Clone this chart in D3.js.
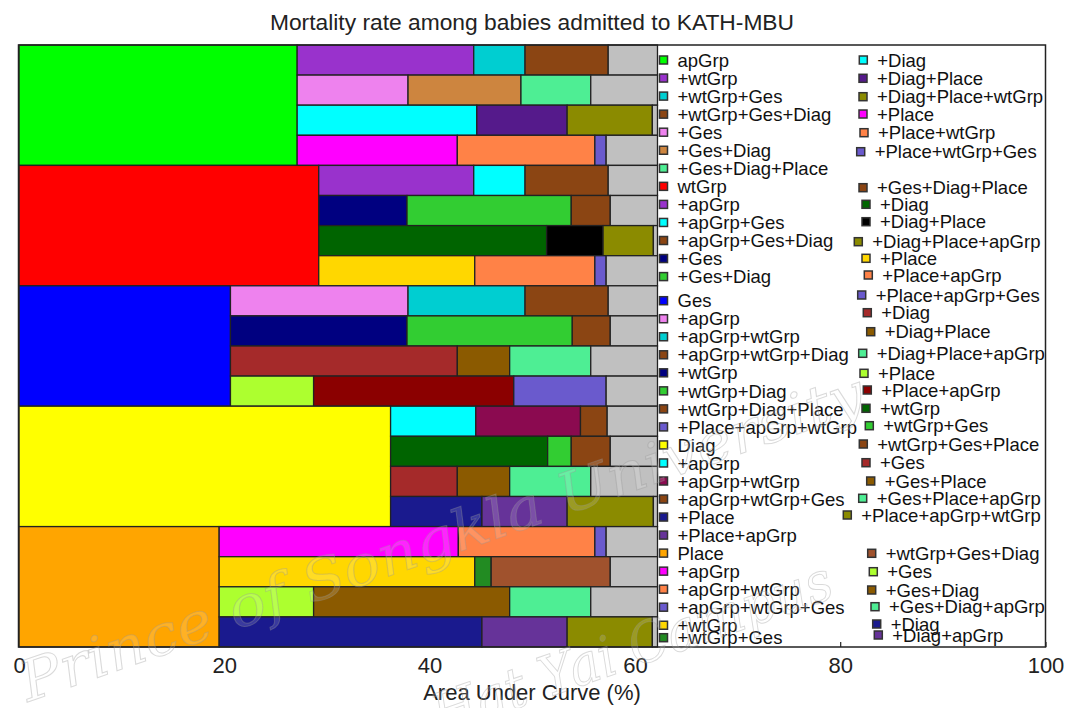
<!DOCTYPE html>
<html>
<head>
<meta charset="utf-8">
<script src="https://cdn.jsdelivr.net/npm/d3@7"></script>
<style>
  html, body { margin: 0; padding: 0; background: #fff; }
  svg { display: block; font-family: "Liberation Sans", Arial, sans-serif; }
</style>
</head>
<body>
<svg id="chart" width="1067" height="708"></svg>
<script>
// ---- data -------------------------------------------------------------
// single-variable models (one band each) and their AUC (%)
const models = ["apGrp", "wtGrp", "Ges", "Diag", "Place"];
const modelColors = ["#00FF00", "#FF0000", "#0000FF", "#FFFF00", "#FFA500"];
const singleAUC = [27.1, 29.2, 20.6, 36.2, 19.5];

// AUC of the full model (grey cap at the end of each row)
const fullAUC = 62.2;

// four forward-selection paths per model, three added terms each
const stepLabels = [
  [["+wtGrp", "+wtGrp+Ges", "+wtGrp+Ges+Diag"],
   ["+Ges", "+Ges+Diag", "+Ges+Diag+Place"],
   ["+Diag", "+Diag+Place", "+Diag+Place+wtGrp"],
   ["+Place", "+Place+wtGrp", "+Place+wtGrp+Ges"]],
  [["+apGrp", "+apGrp+Ges", "+apGrp+Ges+Diag"],
   ["+Ges", "+Ges+Diag", "+Ges+Diag+Place"],
   ["+Diag", "+Diag+Place", "+Diag+Place+apGrp"],
   ["+Place", "+Place+apGrp", "+Place+apGrp+Ges"]],
  [["+apGrp", "+apGrp+wtGrp", "+apGrp+wtGrp+Diag"],
   ["+wtGrp", "+wtGrp+Diag", "+wtGrp+Diag+Place"],
   ["+Diag", "+Diag+Place", "+Diag+Place+apGrp"],
   ["+Place", "+Place+apGrp", "+Place+apGrp+wtGrp"]],
  [["+apGrp", "+apGrp+wtGrp", "+apGrp+wtGrp+Ges"],
   ["+wtGrp", "+wtGrp+Ges", "+wtGrp+Ges+Place"],
   ["+Ges", "+Ges+Place", "+Ges+Place+apGrp"],
   ["+Place", "+Place+apGrp", "+Place+apGrp+wtGrp"]],
  [["+apGrp", "+apGrp+wtGrp", "+apGrp+wtGrp+Ges"],
   ["+wtGrp", "+wtGrp+Ges", "+wtGrp+Ges+Diag"],
   ["+Ges", "+Ges+Diag", "+Ges+Diag+apGrp"],
   ["+Diag", "+Diag+apGrp", "+Diag+apGrp+wtGrp"]]
];

// cumulative AUC (%) after each added term
const stepAUC = [
  [[44.3, 49.3, 57.4], [37.9, 48.9, 55.7], [44.6, 53.4, 61.7], [42.7, 56.1, 57.2]],
  [[44.3, 49.3, 57.4], [37.8, 53.8, 57.6], [51.4, 56.9, 61.8], [44.4, 56.1, 57.2]],
  [[37.9, 49.3, 57.4], [37.8, 53.9, 57.6], [42.7, 47.8, 55.7], [28.7, 48.2, 57.2]],
  [[44.5, 54.7, 57.3], [51.5, 53.8, 57.6], [42.7, 47.8, 55.7], [45.1, 53.4, 61.8]],
  [[42.8, 56.1, 57.2], [44.4, 46.0, 57.6], [28.7, 47.8, 55.7], [45.1, 53.4, 61.7]]
];

const stepColors = [
  [["#9932CC", "#00CED1", "#8B4513"], ["#EE82EE", "#CD853F", "#4EEE94"],
   ["#00FFFF", "#551A8B", "#8B8B00"], ["#FF00FF", "#FF8247", "#6A5ACD"]],
  [["#9932CC", "#00FFFF", "#8B4513"], ["#000080", "#32CD32", "#8B4513"],
   ["#006400", "#000000", "#8B8B00"], ["#FFD700", "#FF8247", "#6A5ACD"]],
  [["#EE82EE", "#00CED1", "#8B4513"], ["#000080", "#32CD32", "#8B4513"],
   ["#A52A2A", "#8B5A00", "#4EEE94"], ["#ADFF2F", "#8B0000", "#6A5ACD"]],
  [["#00FFFF", "#8B0A50", "#8B4513"], ["#006400", "#32CD32", "#8B4513"],
   ["#A52A2A", "#8B5A00", "#4EEE94"], ["#1A1A8E", "#663399", "#8B8B00"]],
  [["#FF00FF", "#FF8247", "#6A5ACD"], ["#FFD700", "#228B22", "#A0522D"],
   ["#ADFF2F", "#8B5A00", "#4EEE94"], ["#1A1A8E", "#663399", "#8B8B00"]]
];
const fullColor = "#C0C0C0";

const xTicks = [0, 20, 40, 60, 80, 100];

// legend entries: [model, path, step]; path -1 = the single-variable model
const legendLeftKeys = [
  [0,-1],[0,0,0],[0,0,1],[0,0,2],[0,1,0],[0,1,1],[0,1,2],
  [1,-1],[1,0,0],[1,0,1],[1,0,2],[1,1,0],[1,1,1],
  [2,-1],[2,0,0],[2,0,1],[2,0,2],[2,1,0],[2,1,1],[2,1,2],[2,3,2],
  [3,-1],[3,0,0],[3,0,1],[3,0,2],[3,3,0],[3,3,1],
  [4,-1],[4,0,0],[4,0,1],[4,0,2],[4,1,0],[4,1,1]
];
const legendRightKeys = [
  [0,2,0],[0,2,1],[0,2,2],[0,3,0],[0,3,1],[0,3,2],
  [1,1,2],[1,2,0],[1,2,1],[1,2,2],[1,3,0],[1,3,1],[1,3,2],
  [2,2,0],[2,2,1],[2,2,2],[2,3,0],[2,3,1],
  [3,1,0],[3,1,1],[3,1,2],[3,2,0],[3,2,1],[3,2,2],[3,3,2],
  [4,1,2],[4,2,0],[4,2,1],[4,2,2],[4,3,0],[4,3,1]
];

// ---- layout -----------------------------------------------------------
const plot = { left: 18.5, right: 1045.5, top: 45, bottom: 647 };

// legend placement (the right-hand column is set entry by entry)
const leftLegendX = 663.5;
const leftLegendY = legendLeftKeys.map((k, i) =>
  i < 13 ? 60 + i * 18.05 : (i < 32 ? 300.7 + (i - 13) * 18.03 : 637.7));
const rightLegendX = [863.3, 863, 863, 863, 864, 860.7,
  863, 866, 866, 858.3, 866, 868.3, 861.7,
  867.3, 870.7, 862.7, 864, 867.3,
  866, 869.3, 863.3, 866, 870.7, 862.7, 847.3,
  871.7, 873.3, 871.7, 875, 876.7, 878.3];
const rightLegendY = [60, 78.3, 96.7, 114, 132.7, 151.7,
  187.7, 204.3, 221.7, 241.7, 258.3, 275, 295,
  312.7, 331.7, 353.3, 373.3, 390,
  408.3, 425.7, 444, 462.7, 481, 498.3, 515,
  553.3, 571.7, 590, 606.7, 624, 635];

// ---- drawing ----------------------------------------------------------
const svg = d3.select("#chart");

const x = d3.scaleLinear().domain([0, 100]).range([plot.left + 0.5, plot.right]);
const yModel = d3.scaleBand().domain(models).range([plot.top, plot.bottom]);
const yPath = d3.scaleBand().domain([0, 1, 2, 3]).range([0, yModel.bandwidth()]);

// title
svg.append("text")
  .attr("x", (plot.left + plot.right) / 2)
  .attr("y", 30)
  .attr("text-anchor", "middle")
  .attr("font-size", 22.8)
  .attr("fill", "#222")
  .text("Mortality rate among babies admitted to KATH-MBU");

// x axis with short inward ticks
const axis = svg.append("g")
  .attr("transform", `translate(0,${plot.bottom})`)
  .call(d3.axisBottom(x).tickValues(xTicks).tickFormat(d3.format("d"))
    .tickSizeInner(-5).tickSizeOuter(0).tickPadding(10));
axis.select(".domain").remove();
axis.selectAll(".tick line").attr("stroke", "#222").attr("stroke-width", 1.2);
axis.selectAll(".tick text")
  .attr("font-size", 22)
  .attr("font-family", "'Liberation Sans', Arial, sans-serif")
  .attr("fill", "#222");

svg.append("text")
  .attr("x", (plot.left + plot.right) / 2)
  .attr("y", 700)
  .attr("text-anchor", "middle")
  .attr("font-size", 22)
  .attr("fill", "#222")
  .text("Area Under Curve (%)");

// bars
const bars = svg.append("g")
  .attr("stroke", "#222")
  .attr("stroke-width", 1.3);

models.forEach((m, gi) => {
  const y0 = yModel(m);
  // single-variable model spans the whole band
  bars.append("rect")
    .attr("x", x(0))
    .attr("y", y0)
    .attr("width", x(singleAUC[gi]) - x(0))
    .attr("height", yModel.bandwidth())
    .attr("fill", modelColors[gi]);

  stepAUC[gi].forEach((path, pi) => {
    const ends = [...path, fullAUC];
    const starts = [singleAUC[gi], ...path];
    const fills = [...stepColors[gi][pi], fullColor];
    ends.forEach((e, si) => {
      bars.append("rect")
        .attr("x", x(starts[si]))
        .attr("y", y0 + yPath(pi))
        .attr("width", Math.max(0, x(e) - x(starts[si])))
        .attr("height", yPath.bandwidth())
        .attr("fill", fills[si]);
    });
  });
});

// plot frame
svg.append("rect")
  .attr("x", plot.left)
  .attr("y", plot.top)
  .attr("width", plot.right - plot.left)
  .attr("height", plot.bottom - plot.top)
  .attr("fill", "none")
  .attr("stroke", "#222")
  .attr("stroke-width", 1.5);

// legend
function legendInfo(k) {
  if (k[1] === -1) return { label: models[k[0]], color: modelColors[k[0]] };
  return { label: stepLabels[k[0]][k[1]][k[2]], color: stepColors[k[0]][k[1]][k[2]] };
}
const legend = svg.append("g").attr("font-size", 18.5).attr("fill", "#111");

function drawEntry(info, cx, cy) {
  legend.append("rect")
    .attr("x", cx - 4).attr("y", cy - 4)
    .attr("width", 8).attr("height", 8)
    .attr("fill", info.color)
    .attr("stroke", "#333").attr("stroke-width", 1.5);
  legend.append("text")
    .attr("x", cx + 14).attr("y", cy)
    .attr("dy", "0.36em")
    .text(info.label);
}
legendLeftKeys.forEach((k, i) => drawEntry(legendInfo(k), leftLegendX, leftLegendY[i]));
legendRightKeys.forEach((k, i) => drawEntry(legendInfo(k), rightLegendX[i], rightLegendY[i]));

// faint university watermark across the lower left
const mark = svg.append("g")
  .attr("font-family", "'DejaVu Serif', serif")
  .attr("font-style", "italic")
  .attr("font-size", 56)
  .attr("fill", "rgba(255,255,255,0.14)")
  .attr("stroke", "rgba(150,150,150,0.35)")
  .attr("stroke-width", 1)
  .attr("pointer-events", "none");
mark.append("text")
  .attr("transform", "translate(28,702) rotate(-19.2)")
  .attr("textLength", 890)
  .attr("lengthAdjust", "spacingAndGlyphs")
  .text("Prince of Songkla University");
mark.append("text")
  .attr("transform", "translate(440,735) rotate(-19.2)")
  .attr("textLength", 420)
  .attr("lengthAdjust", "spacingAndGlyphs")
  .text("Hat Yai Campus");
</script>
</body>
</html>
